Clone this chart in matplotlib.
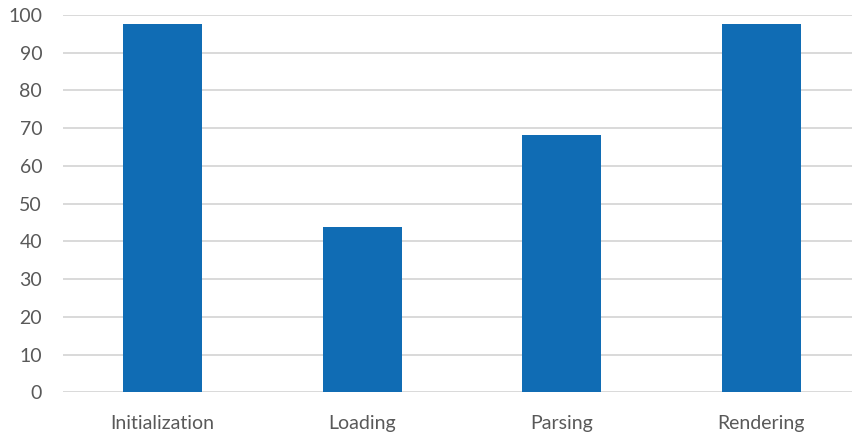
import matplotlib
matplotlib.use("Agg")
import matplotlib.pyplot as plt

# stage timings
stages = ["Initialization", "Loading", "Parsing", "Rendering"]
values = [97.6, 43.9, 68.2, 97.6]
yticks = list(range(0, 101, 10))

plt.rcParams['font.family'] = ['Lato', 'DejaVu Sans']

fig = plt.figure(figsize=(8.53, 4.34), dpi=100)
ax = fig.add_axes([63 / 853, 41.7 / 434, 798 / 853, 377.4 / 434])

x = range(len(stages))
ax.bar(x, values, width=0.396, color="#106cb4", zorder=3)

ax.set_xlim(-0.5, len(stages) - 0.5)
ax.set_ylim(0, 100)
ax.set_yticks(yticks)
ax.set_xticks(list(x))
ax.set_xticklabels(stages)

ax.grid(axis="y", color="#d9d9d9", linewidth=1.4, zorder=0)
ax.set_axisbelow(True)
for s in ax.spines.values():
    s.set_visible(False)

ax.tick_params(axis="both", length=0, labelsize=14, colors="#595959")
ax.tick_params(axis="y", pad=15)
ax.tick_params(axis="x", pad=16)

fig.savefig("out.png", dpi=100)
